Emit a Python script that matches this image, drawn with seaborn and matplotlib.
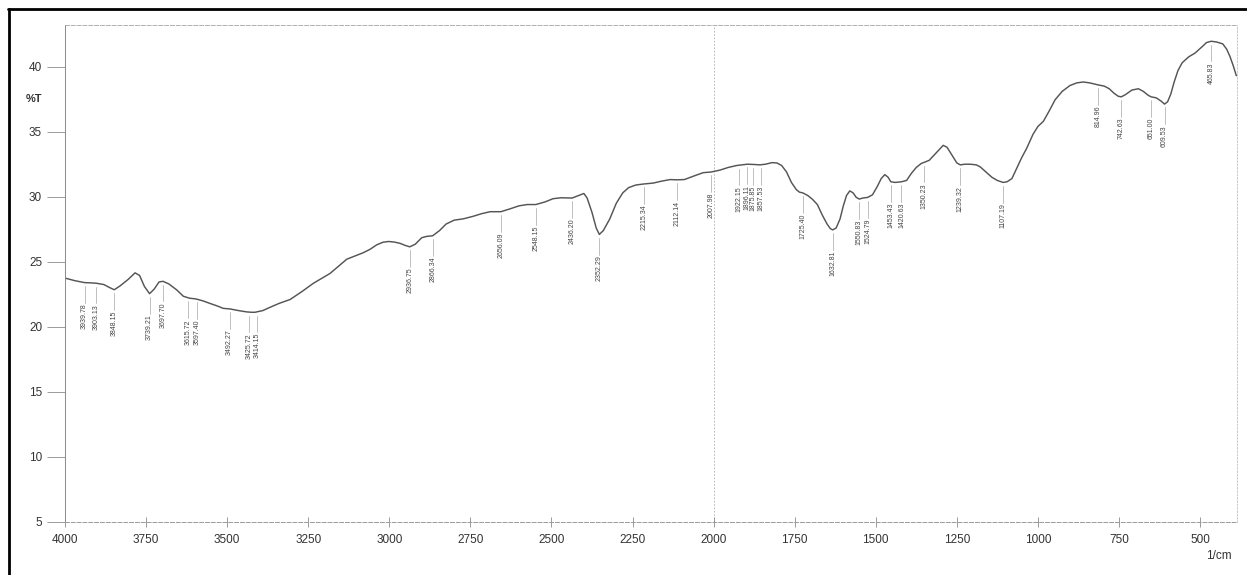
import numpy as np
import pandas as pd
import matplotlib
matplotlib.use("Agg")
import matplotlib.pyplot as plt
from matplotlib.lines import Line2D
from matplotlib.ticker import MultipleLocator
import seaborn as sns

# ---- spectrum (wavenumber in 1/cm, transmittance in %T) ----
wavenumber = [
    4000, 3970, 3939.78, 3920, 3903.13, 3880, 3865, 3848.15, 3830, 3805,
    3784, 3770, 3755, 3739.21, 3725, 3710, 3697.70, 3680, 3656, 3635,
    3615.72, 3597.40, 3575, 3553, 3530, 3512, 3492.27, 3465, 3440, 3425.72,
    3414.15, 3390, 3368, 3340, 3306, 3270, 3234, 3200, 3183, 3150,
    3131, 3100, 3080, 3060, 3039, 3020, 3003, 2985, 2967, 2950,
    2936.75, 2920, 2900, 2885, 2866.34, 2845, 2825, 2800, 2772, 2741,
    2715, 2689, 2656.09, 2630, 2600, 2575, 2548.15, 2520, 2495, 2470,
    2436.20, 2415, 2400, 2390, 2375, 2362, 2352.29, 2340, 2320, 2300,
    2280, 2262, 2240, 2215.34, 2186, 2160, 2134, 2112.14, 2090, 2060,
    2032, 2007.98, 1980, 1955, 1929, 1922.15, 1896.11, 1875.85, 1857.53, 1840,
    1820, 1805, 1790, 1775, 1760, 1745, 1735, 1725.40, 1710, 1695,
    1680, 1665, 1650, 1640, 1632.81, 1622, 1610, 1600, 1590, 1580,
    1570, 1560, 1550.83, 1540, 1524.79, 1510, 1495, 1483, 1472, 1462,
    1453.43, 1440, 1420.63, 1405, 1390, 1375, 1360, 1350.23, 1335, 1320,
    1305, 1292, 1280, 1265, 1250, 1239.32, 1225, 1209, 1190, 1178,
    1160, 1142, 1125, 1107.19, 1095, 1080, 1065, 1050, 1035, 1015,
    1000, 983, 965, 947, 925, 901, 880, 860, 840, 814.96,
    795, 780, 765, 752, 742.63, 730, 710, 690, 675, 660,
    651.00, 635, 620, 609.53, 600, 590, 580, 568, 555, 535,
    515, 495, 480, 465.83, 450, 430, 418, 408, 398, 388,
]
transmittance = [
    23.75, 23.55, 23.40, 23.38, 23.35, 23.25, 23.05, 22.85, 23.15, 23.65,
    24.15, 23.95, 23.10, 22.55, 22.90, 23.45, 23.50, 23.30, 22.85, 22.35,
    22.20, 22.15, 22.00, 21.80, 21.60, 21.42, 21.38, 21.25, 21.15, 21.12,
    21.12, 21.25, 21.50, 21.80, 22.10, 22.70, 23.35, 23.85, 24.10, 24.80,
    25.20, 25.50, 25.70, 25.95, 26.30, 26.50, 26.56, 26.52, 26.42, 26.25,
    26.15, 26.35, 26.85, 26.95, 27.00, 27.40, 27.90, 28.20, 28.30, 28.50,
    28.70, 28.85, 28.85, 29.05, 29.30, 29.40, 29.40, 29.60, 29.85, 29.92,
    29.90, 30.10, 30.25, 29.90, 28.80, 27.60, 27.10, 27.40, 28.30, 29.50,
    30.30, 30.70, 30.90, 30.98, 31.05, 31.20, 31.32, 31.30, 31.32, 31.60,
    31.85, 31.90, 32.05, 32.25, 32.40, 32.42, 32.50, 32.48, 32.45, 32.50,
    32.62, 32.60, 32.40, 31.90, 31.10, 30.55, 30.35, 30.30, 30.10, 29.80,
    29.40, 28.60, 27.90, 27.55, 27.45, 27.60, 28.30, 29.30, 30.10, 30.45,
    30.30, 29.95, 29.82, 29.90, 29.95, 30.15, 30.80, 31.40, 31.70, 31.50,
    31.15, 31.10, 31.15, 31.25, 31.80, 32.25, 32.55, 32.65, 32.80, 33.20,
    33.60, 33.95, 33.80, 33.20, 32.60, 32.45, 32.50, 32.50, 32.45, 32.30,
    31.90, 31.50, 31.25, 31.10, 31.15, 31.40, 32.20, 33.00, 33.70, 34.80,
    35.40, 35.80, 36.60, 37.45, 38.10, 38.55, 38.75, 38.82, 38.75, 38.60,
    38.50, 38.30, 37.95, 37.72, 37.68, 37.85, 38.20, 38.30, 38.10, 37.80,
    37.68, 37.60, 37.35, 37.12, 37.30, 37.90, 38.80, 39.70, 40.30, 40.75,
    41.05, 41.50, 41.85, 41.95, 41.90, 41.75, 41.35, 40.80, 40.10, 39.30,
]

# ---- picked peaks ----
peak_positions = [
    3939.78, 3903.13, 3848.15, 3739.21, 3697.70, 3615.72, 3597.40, 3492.27,
    3425.72, 3414.15, 2936.75, 2866.34, 2656.09, 2548.15, 2436.20, 2352.29,
    2215.34, 2112.14, 2007.98, 1922.15, 1896.11, 1875.85, 1857.53, 1725.40,
    1632.81, 1550.83, 1524.79, 1453.43, 1420.63, 1350.23, 1239.32, 1107.19,
    814.96, 742.63, 651.00, 609.53, 465.83,
]

y_ticks = [5, 10, 15, 20, 25, 30, 35, 40]
x_ticks = [4000, 3750, 3500, 3250, 3000, 2750, 2500, 2250, 2000,
           1750, 1500, 1250, 1000, 750, 500]

spectrum = pd.DataFrame({"wn": wavenumber, "T": transmittance})

sns.set_style("white")
plt.rcParams["font.family"] = ["Liberation Sans", "DejaVu Sans"]

W, H = 1247, 575
fig = plt.figure(figsize=(W / 100, H / 100), dpi=100)
fig.patch.set_facecolor("white")

left_px, right_px, top_px, bottom_px = 65, 1237, 25, 522
ax = fig.add_axes([left_px / W, 1 - bottom_px / H,
                   (right_px - left_px) / W, (bottom_px - top_px) / H])
ax.set_facecolor("white")

sns.lineplot(data=spectrum, x="wn", y="T", ax=ax, color="#555555",
             linewidth=1.05, sort=False, estimator=None)

x_hi, x_lo = 4000, 386
ax.set_xlim(x_hi, x_lo)
ax.set_ylim(5, 43.2)
ax.set_xlabel("")
ax.set_ylabel("")

# grid line at 2000 1/cm
ax.axvline(2000, color="#b0b0b0", lw=0.6, ls=(0, (2, 2)), zorder=0)

# frame
ax.spines["left"].set_color("#8a8a8a")
ax.spines["left"].set_linewidth(0.7)
ax.spines["bottom"].set_color("#9a9a9a")
ax.spines["bottom"].set_linewidth(0.7)
ax.spines["bottom"].set_linestyle((0, (4, 2)))
ax.spines["top"].set_color("#b0b0b0")
ax.spines["top"].set_linewidth(0.7)
ax.spines["top"].set_linestyle((0, (4, 2)))
ax.spines["right"].set_color("#c0c0c0")
ax.spines["right"].set_linewidth(0.6)
ax.spines["right"].set_linestyle((0, (2, 2)))

# ticks
ax.set_yticks(y_ticks)
ax.set_yticklabels([str(v) for v in y_ticks])
ax.yaxis.set_minor_locator(MultipleLocator(1))
ax.set_xticks(x_ticks)
ax.set_xticklabels([str(v) for v in x_ticks])
ax.xaxis.set_minor_locator(MultipleLocator(50))
ax.tick_params(axis="y", which="major", direction="out", length=13,
               width=0.6, color="#8a8a8a", pad=3.5, labelsize=8.5,
               labelcolor="#333333")
ax.tick_params(axis="y", which="minor", direction="inout", length=3.5,
               width=0.5, color="#8a8a8a")
ax.tick_params(axis="x", which="major", direction="inout", length=7,
               width=0.6, color="#8a8a8a", pad=5, labelsize=8.5,
               labelcolor="#333333")
ax.tick_params(axis="x", which="minor", direction="inout", length=3,
               width=0.5, color="#9a9a9a")
ax.tick_params(left=True, bottom=True)

# axis captions
ax.text(-0.0195, 37.5, "%T", transform=ax.get_yaxis_transform(),
        ha="right", va="center", fontsize=8, fontweight="bold",
        color="#333333")
fig.text(1232 / W, 1 - 556 / H, "1/cm", ha="right", va="center",
         fontsize=8.5, color="#333333")

# ---- peak annotations: leader line and vertical label under the trace ----
wn_sorted = np.array(wavenumber)[::-1]
t_sorted = np.array(transmittance)[::-1]

# spread crowded labels so neighbouring texts keep a minimum spacing
px_per_unit = ax.bbox.width / (x_hi - x_lo)
min_gap = 8.3 / px_per_unit
pos = np.array(sorted(peak_positions, reverse=True), dtype=float)
label_x = pos.copy()
for _ in range(50):
    changed = False
    i = 0
    while i < len(label_x):
        j = i
        while j + 1 < len(label_x) and label_x[j] - label_x[j + 1] < min_gap - 1e-9:
            j += 1
        if j > i:
            centre = pos[i:j + 1].mean()
            n = j - i + 1
            new = centre + min_gap * ((n - 1) / 2 - np.arange(n))
            if not np.allclose(new, label_x[i:j + 1]):
                label_x[i:j + 1] = new
                changed = True
        i = j + 1
    if not changed:
        break

for wn, lx in zip(pos, label_x):
    t_here = np.interp(wn, wn_sorted, t_sorted)
    ax.plot([lx, lx], [t_here - 0.25, t_here - 1.55], color="#b5b5b5",
            lw=0.6, zorder=1)
    ax.text(lx, t_here - 1.6, f"{wn:.2f}", rotation=90, ha="center",
            va="top", fontsize=5, color="#444444")

# scanned page border (top and left edge)
fig.add_artist(Line2D([8 / W, 1], [1 - 9 / H, 1 - 9 / H],
                      transform=fig.transFigure, color="black", lw=2))
fig.add_artist(Line2D([8.5 / W, 8.5 / W], [0, 1 - 9 / H],
                      transform=fig.transFigure, color="black", lw=2))

fig.savefig("out.png", dpi=100, facecolor="white")
